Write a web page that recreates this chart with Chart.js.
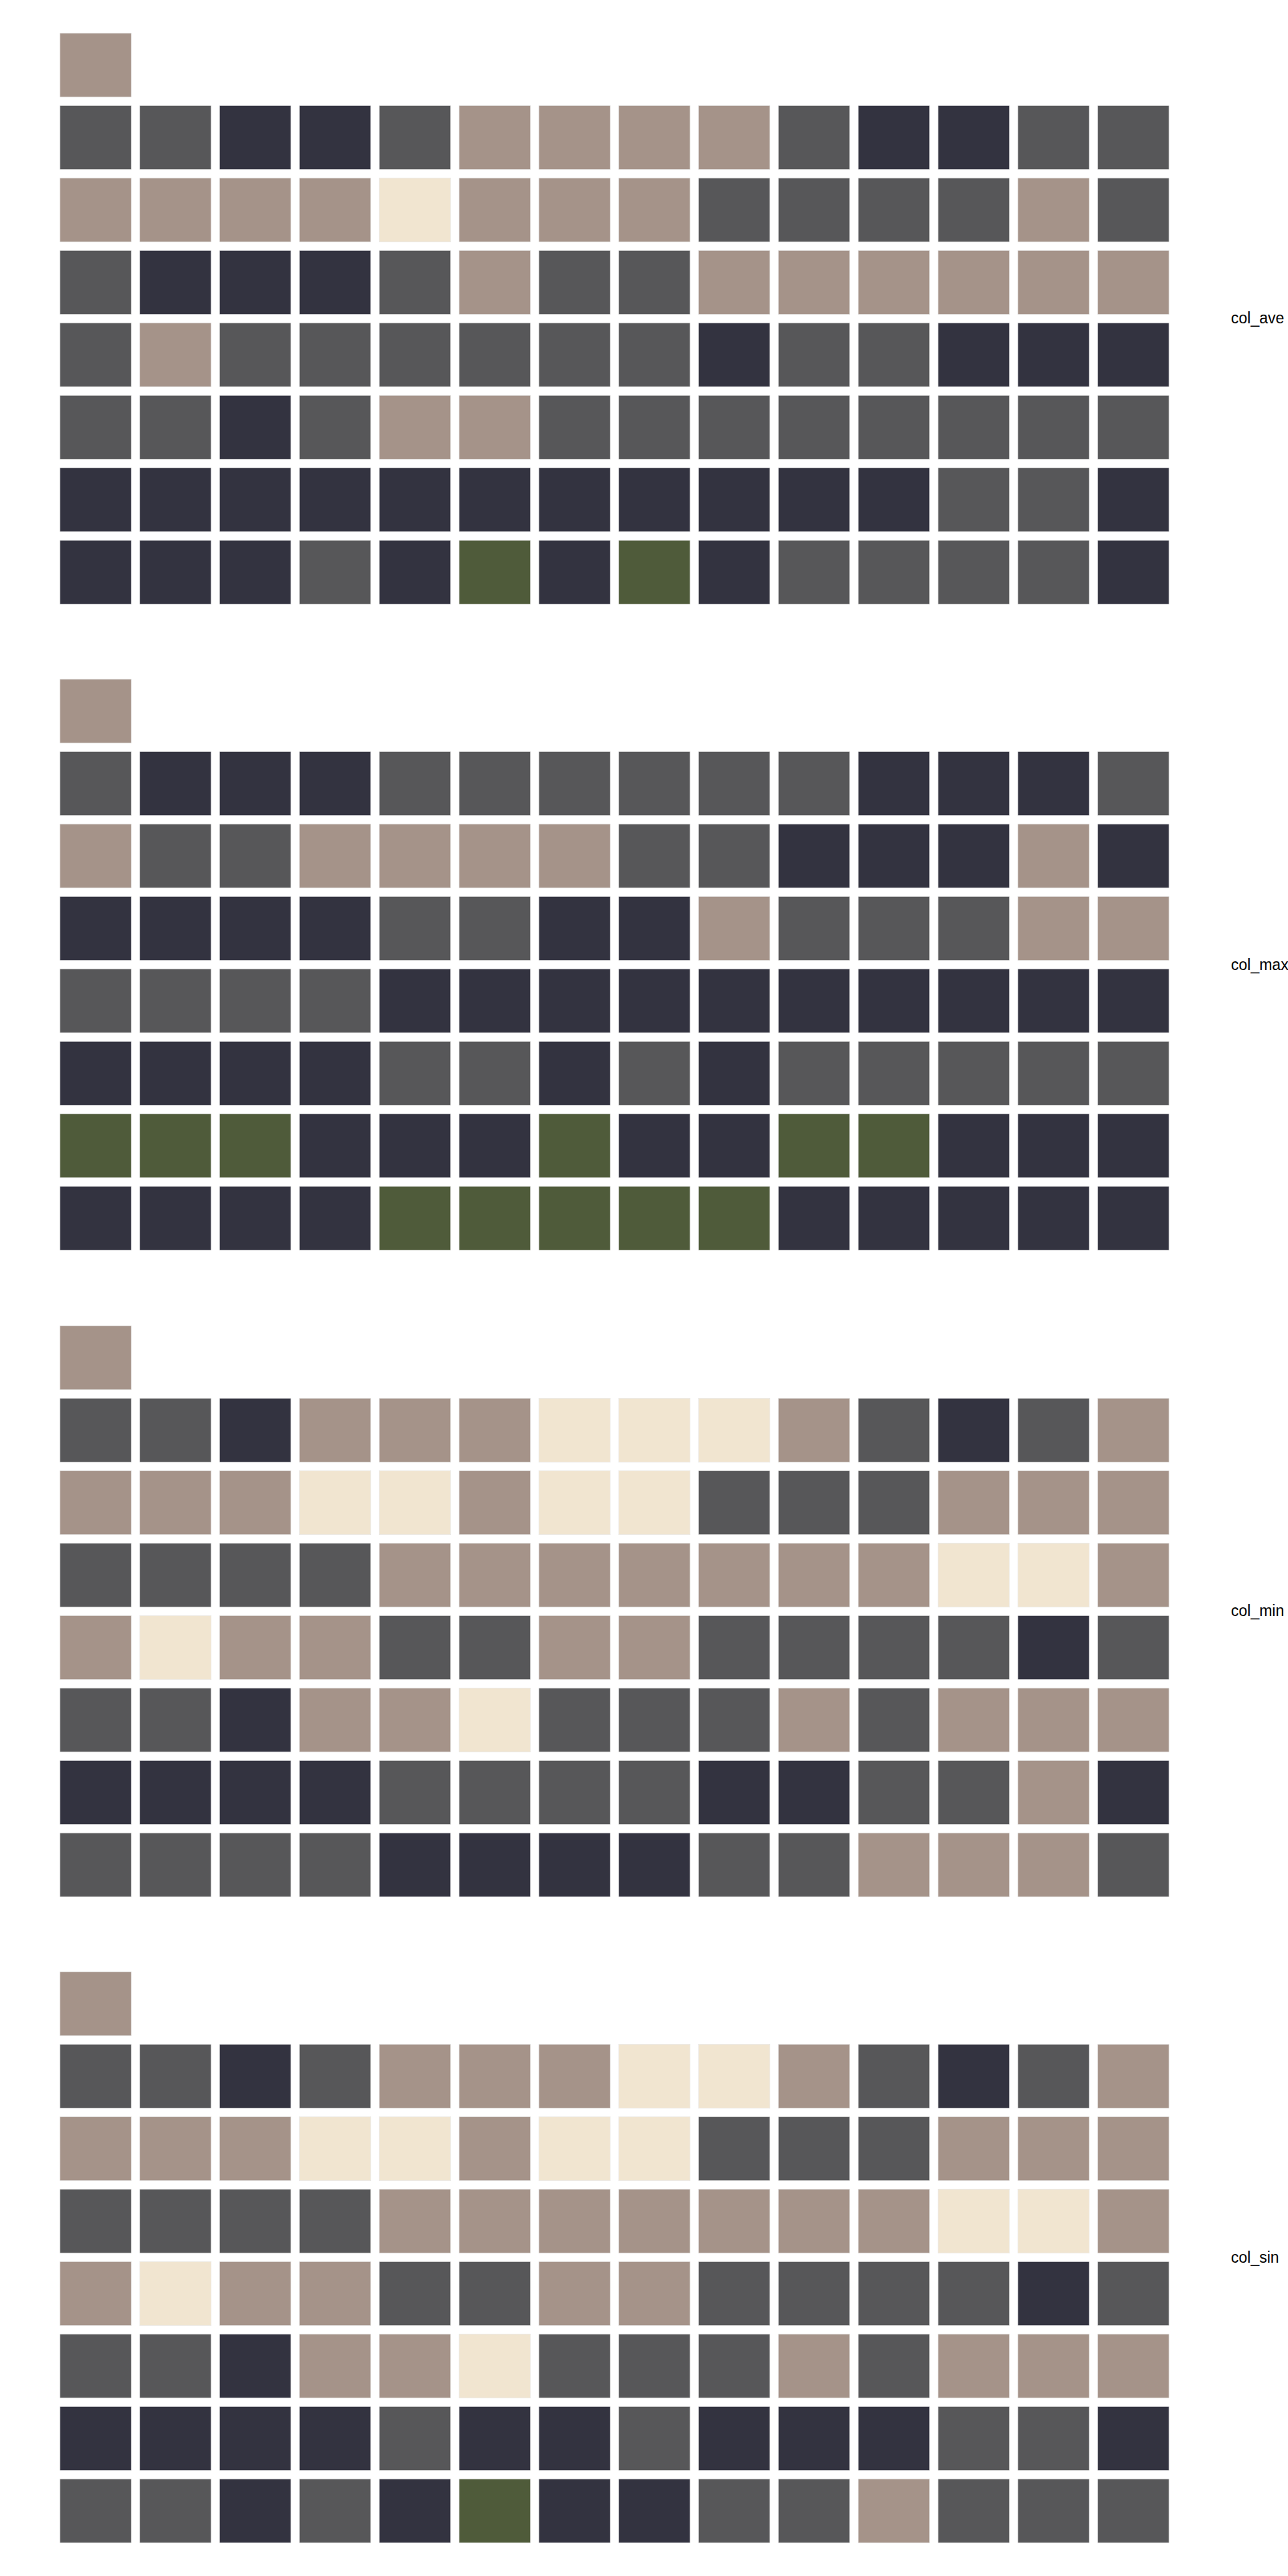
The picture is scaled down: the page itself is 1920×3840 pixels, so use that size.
<!DOCTYPE html>
<html lang="en">
<head>
    <meta charset="UTF-8">
    <title>Calendar heatmaps</title>
    <script src="https://cdn.jsdelivr.net/npm/chart.js"></script>
    <style>
        body {
            margin: 0;
            padding: 0;
            background: #ffffff;
            font-family: "Liberation Sans", Arial, sans-serif;
        }
        #page {
            position: relative;
            width: 1920px;
            height: 3840px;
        }
        .panel {
            position: absolute;
            left: 83.4px;
            width: 1666px;
            height: 864px;
        }
        .label {
            position: absolute;
            left: 1835px;
            font-size: 23px;
            color: #000;
            transform: translateY(-50%);
            white-space: nowrap;
        }
    </style>
</head>
<body>
<div id="page"></div>

<script>
    // Level per cell: 1 cream, 2 tan, 3 grey, 4 navy, 5 olive
    const panelNames = ['col_ave', 'col_max', 'col_min', 'col_sin'];
    const weeks = ['1', '2', '3', '4', '5', '6', '7', '8', '9', '10', '11', '12', '13', '14'];
    const levelColors = { 1: '#f1e5d0', 2: '#a59389', 3: '#575759', 4: '#333340', 5: '#4f5b3a' };

    const colAve = [
        [2],
        [3, 3, 4, 4, 3, 2, 2, 2, 2, 3, 4, 4, 3, 3],
        [2, 2, 2, 2, 1, 2, 2, 2, 3, 3, 3, 3, 2, 3],
        [3, 4, 4, 4, 3, 2, 3, 3, 2, 2, 2, 2, 2, 2],
        [3, 2, 3, 3, 3, 3, 3, 3, 4, 3, 3, 4, 4, 4],
        [3, 3, 4, 3, 2, 2, 3, 3, 3, 3, 3, 3, 3, 3],
        [4, 4, 4, 4, 4, 4, 4, 4, 4, 4, 4, 3, 3, 4],
        [4, 4, 4, 3, 4, 5, 4, 5, 4, 3, 3, 3, 3, 4]
    ];
    const colMax = [
        [2],
        [3, 4, 4, 4, 3, 3, 3, 3, 3, 3, 4, 4, 4, 3],
        [2, 3, 3, 2, 2, 2, 2, 3, 3, 4, 4, 4, 2, 4],
        [4, 4, 4, 4, 3, 3, 4, 4, 2, 3, 3, 3, 2, 2],
        [3, 3, 3, 3, 4, 4, 4, 4, 4, 4, 4, 4, 4, 4],
        [4, 4, 4, 4, 3, 3, 4, 3, 4, 3, 3, 3, 3, 3],
        [5, 5, 5, 4, 4, 4, 5, 4, 4, 5, 5, 4, 4, 4],
        [4, 4, 4, 4, 5, 5, 5, 5, 5, 4, 4, 4, 4, 4]
    ];
    const colMin = [
        [2],
        [3, 3, 4, 2, 2, 2, 1, 1, 1, 2, 3, 4, 3, 2],
        [2, 2, 2, 1, 1, 2, 1, 1, 3, 3, 3, 2, 2, 2],
        [3, 3, 3, 3, 2, 2, 2, 2, 2, 2, 2, 1, 1, 2],
        [2, 1, 2, 2, 3, 3, 2, 2, 3, 3, 3, 3, 4, 3],
        [3, 3, 4, 2, 2, 1, 3, 3, 3, 2, 3, 2, 2, 2],
        [4, 4, 4, 4, 3, 3, 3, 3, 4, 4, 3, 3, 2, 4],
        [3, 3, 3, 3, 4, 4, 4, 4, 3, 3, 2, 2, 2, 3]
    ];
    const colSin = [
        [2],
        [3, 3, 4, 3, 2, 2, 2, 1, 1, 2, 3, 4, 3, 2],
        [2, 2, 2, 1, 1, 2, 1, 1, 3, 3, 3, 2, 2, 2],
        [3, 3, 3, 3, 2, 2, 2, 2, 2, 2, 2, 1, 1, 2],
        [2, 1, 2, 2, 3, 3, 2, 2, 3, 3, 3, 3, 4, 3],
        [3, 3, 4, 2, 2, 1, 3, 3, 3, 2, 3, 2, 2, 2],
        [4, 4, 4, 4, 3, 4, 4, 3, 4, 4, 4, 3, 3, 4],
        [3, 3, 4, 3, 4, 5, 4, 4, 3, 3, 2, 3, 3, 3]
    ];

    const panels = [colAve, colMax, colMin, colSin];
    const panelPitch = 963.6;
    const firstTop = 42.65;
    const inset = 0.0523; // gap between rows, in row units

    const page = document.getElementById('page');

    panels.forEach((grid, p) => {
        const top = firstTop + p * panelPitch;

        const box = document.createElement('div');
        box.className = 'panel';
        box.style.top = top + 'px';
        const canvas = document.createElement('canvas');
        box.appendChild(canvas);
        page.appendChild(box);

        const label = document.createElement('div');
        label.className = 'label';
        label.textContent = panelNames[p];
        label.style.top = (top + 432 - 0.5) + 'px';
        page.appendChild(label);

        // one dataset per calendar row, floating bars [r+inset, r+1-inset]
        const datasets = grid.map((row, r) => ({
            label: 'row ' + r,
            data: weeks.map((w, c) => row[c] === undefined ? null : [r + inset, r + 1 - inset]),
            backgroundColor: weeks.map((w, c) => levelColors[row[c]] || 'rgba(0,0,0,0)'),
            borderColor: 'rgba(205,205,205,0.55)',
            borderWidth: 1,
            borderSkipped: false
        }));

        new Chart(canvas.getContext('2d'), {
            type: 'bar',
            data: { labels: weeks, datasets: datasets },
            options: {
                responsive: true,
                maintainAspectRatio: false,
                animation: false,
                layout: { padding: 0 },
                plugins: {
                    legend: { display: false },
                    tooltip: { enabled: false }
                },
                datasets: {
                    bar: {
                        grouped: false,
                        categoryPercentage: 1,
                        barPercentage: 0.905
                    }
                },
                scales: {
                    x: { display: false },
                    y: { display: false, reverse: true, min: 0, max: 8 }
                }
            }
        });
    });
</script>
</body>
</html>
